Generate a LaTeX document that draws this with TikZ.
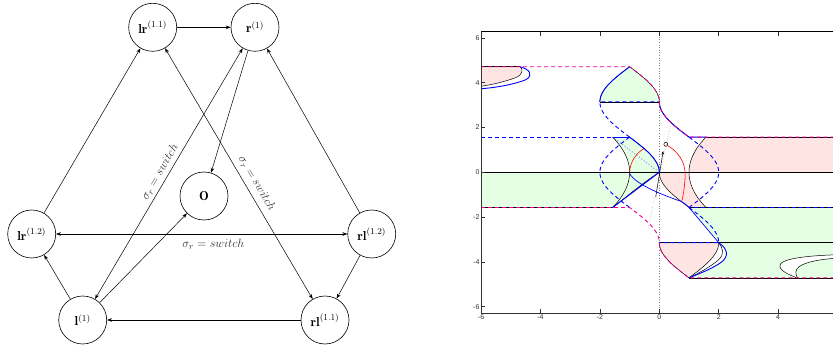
\documentclass[tikz,border=0pt]{standalone}
\usepackage{amsmath}
\usepackage{fontspec}
\newfontfamily\axisfont{Liberation Sans}
\usetikzlibrary{arrows.meta, positioning}
\definecolor{pinkfill}{RGB}{255,228,228}
\definecolor{greenfill}{RGB}{228,255,228}

\begin{document}
\begin{tikzpicture}[x=1pt, y=1pt, state/.style={draw, circle, minimum size=48pt, inner sep=0pt, line width=0.6pt, font=\fontsize{13}{15}\selectfont}, arrow/.style={-{Stealth[length=5pt, width=3.6pt]}, line width=0.5pt}, dblarrow/.style={{Stealth[length=5pt, width=3.6pt]}-{Stealth[length=5pt, width=3.6pt]}, line width=0.5pt}, swlabel/.style={font=\fontsize{12.5}{15}\selectfont, text=black!80}, blk/.style={black, line width=0.5pt}, bl/.style={blue, line width=0.9pt}, bldash/.style={bl, dash pattern=on 4pt off 3pt}, magdash/.style={magenta, line width=0.9pt, dash pattern=on 4pt off 3pt}, ticklabel/.style={font=\axisfont\fontsize{7}{8}\selectfont, inner sep=1.5pt, text=black!80}]

\useasboundingbox (0,0) rectangle (833,346);

% state graph
\node[state] (lr12) at (31.7,112) {$\mathbf{lr}^{(1.2)}$};
\node[state, right=291.4pt of lr12] (rl12) {$\mathbf{rl}^{(1.2)}$};
\node[state] (l1) at (82.7,26) {$\mathbf{l}^{(1)}$};
\node[state, right=193.7pt of l1] (rl11) {$\mathbf{rl}^{(1.1)}$};
\node[state] (lr11) at (152.7,318.7) {$\mathbf{lr}^{(1.1)}$};
\node[state, right=53.7pt of lr11] (r1) {$\mathbf{r}^{(1)}$};
\node[state] (o) at (204,150) {$\mathbf{O}$};

\draw[arrow] (lr11) -- (r1);
\draw[arrow] (lr12) -- (lr11);
\draw[arrow] (rl12) -- (r1);
\draw[arrow] (l1) -- (lr12);
\draw[arrow] (rl12) -- (rl11);
\draw[arrow] (rl11) -- (l1);
\draw[arrow] (r1) -- (o);
\draw[arrow] (l1) -- (o);
\draw[dblarrow] (lr12) -- node[swlabel, below=2pt, pos=0.54] {$\sigma_r = switch$} (rl12);
\draw[dblarrow] (l1) -- node[swlabel, above, sloped, pos=0.49] {$\sigma_r = switch$} (r1);
\draw[dblarrow] (lr11) -- node[swlabel, above=2pt, sloped, pos=0.56] {$\sigma_r = switch$} (rl11);

% phase plane
\begin{scope}[shift={(659.3,173.7)}, x=29.7pt, y=22.4pt]
\begin{scope}
\clip (-6,-6.2832) rectangle (5.848,6.2832);
% regions
\fill[pinkfill] (-6,4.7124) -- (-4.69,4.7124) .. controls (-4.58,4.62) and (-4.58,4.35) .. (-4.85,4.22) .. controls (-5.2,4.05) and (-5.6,3.92) .. (-6,3.84) -- cycle;
\fill[greenfill] (-2,3.1416) -- plot[domain=3.1416:4.7124, samples=30] ({-1+cos(\x r)},\x) -- plot[domain=4.7124:3.1416, samples=30] ({-1-cos(\x r)},\x) -- cycle;
\fill[greenfill] (-6,-1.5708) -- (-1.5708,-1.5708) .. controls (-1.1,-1.1) and (-0.6,-0.5) .. (0,0) -- plot[domain=0:1.5708, samples=30] ({cos(\x r)-1},\x) -- (-1.5708,1.5708) -- plot[domain=1.5708:0, samples=30] ({-1-0.2313*(\x)^2},\x) -- (-6,0) -- cycle;
\fill[pinkfill] (6,1.5708) -- (1.5708,1.5708) -- plot[domain=1.5708:-1.5708, samples=40] ({1+0.2313*(\x)^2},\x) -- (1,-1.5708) -- plot[domain=-1.5708:0, samples=30] ({1-cos(\x r)},\x) -- (6,0) -- cycle;
\fill[greenfill] (1,-1.5708) -- (6,-1.5708) -- (6,-3.1416) -- (2,-3.1416) -- cycle;
\fill[greenfill] (2,-3.1416) -- (6,-3.1416) -- (6,-4.7124) -- (1,-4.7124) .. controls (1.3,-4.55) and (1.8,-4.3) .. (2.1,-4.0) .. controls (2.35,-3.75) and (2.3,-3.4) .. (2,-3.1416) -- cycle;
\fill[white] (6,-3.68) .. controls (5.0,-3.72) and (4.0,-3.85) .. (4.06,-4.21) .. controls (4.1,-4.45) and (4.45,-4.6) .. (4.62,-4.7124) -- (4.66,-4.7124) .. controls (4.63,-4.68) and (4.6,-4.6) .. (4.6,-4.45) .. controls (4.6,-4.1) and (5.2,-3.9) .. (6,-3.83) -- cycle;
\fill[pinkfill] (0,-3.1416) -- (2,-3.1416) -- plot[domain=-3.1416:-4.7124, samples=30] ({1-cos(\x r)},\x) -- plot[domain=-4.7124:-3.1416, samples=30] ({1+cos(\x r)},\x) -- cycle;
% guides
\draw[gray, dotted, line width=0.6pt] (0,-6.2832) -- (0,6.2832);
\draw[gray!70, dotted, line width=0.6pt] (-0.38,-2.5) -- (0.38,2.1);
\draw[blue!45, dotted, line width=1pt] (-1.5708,1.5708) -- (0,0);
% black curves
\draw[blk] (-6,0) -- (6,0);
\draw[blk] (-6,-1.5708) -- (-1.5708,-1.5708);
\draw[blk] (-1.5708,1.5708) -- (-1,1.5708);
\draw[blk] (1.5708,1.5708) -- (6,1.5708);
\draw[blk] (1,-1.5708) -- (6,-1.5708);
\draw[blk] (-2,3.1416) -- (0,3.1416);
\draw[blk] (0,-3.1416) -- (6,-3.1416);
\draw[blk] (-6,4.7124) -- (-4.69,4.7124);
\draw[blk] (1,-4.7124) -- (6,-4.7124);
\draw[blk] plot[domain=1.5708:-1.5708, samples=40] ({-1-0.2313*(\x)^2},\x);
\draw[blk] plot[domain=1.5708:-1.5708, samples=40] ({1+0.2313*(\x)^2},\x);
\draw[blk] plot[domain=0:1.5708, samples=30] ({cos(\x r)-1},\x);
\draw[blk] plot[domain=-1.5708:0, samples=30] ({1-cos(\x r)},\x);
\draw[blk] (0,0) .. controls (-0.6,-0.5) and (-1.1,-1.1) .. (-1.5708,-1.5708);
\draw[blk] plot[domain=3.1416:4.7124, samples=30] ({-1+cos(\x r)},\x);
\draw[blk] plot[domain=3.1416:4.7124, samples=30] ({-1-cos(\x r)},\x);
\draw[blk] plot[domain=1.5708:3.1416, samples=30] ({1+cos(\x r)},\x);
\draw[blk] plot[domain=-3.1416:-4.7124, samples=30] ({1-cos(\x r)},\x);
\draw[blk] plot[domain=-3.1416:-4.7124, samples=30] ({1+cos(\x r)},\x);
\draw[blk] (-4.69,4.7124) .. controls (-4.58,4.62) and (-4.58,4.35) .. (-4.85,4.22) .. controls (-5.2,4.05) and (-5.6,3.92) .. (-6,3.84);
\draw[blk] (2,-3.1416) .. controls (2.15,-3.4) and (2.2,-3.65) .. (2.0,-3.9) .. controls (1.7,-4.25) and (1.25,-4.55) .. (1,-4.7124);
\draw[blk] (6,-3.68) .. controls (5.0,-3.72) and (4.0,-3.85) .. (4.06,-4.21) .. controls (4.1,-4.45) and (4.45,-4.6) .. (4.62,-4.7124);
\draw[blk] (6,-3.83) .. controls (5.2,-3.9) and (4.6,-4.1) .. (4.6,-4.45) .. controls (4.6,-4.6) and (4.63,-4.68) .. (4.66,-4.7124);
% trajectory and start point
\draw[blk, -{Stealth[length=3.5pt, width=2.5pt]}] (-0.12,-1.1) -- (0.13,0.95);
\draw[blk] (0.22,1.25) circle[radius=2pt];
\draw[red, line width=0.6pt] (-1,0) .. controls (-0.98,0.45) and (-0.8,0.85) .. (-0.5,1.07);
\draw[red, line width=0.6pt] (0.25,1.22) .. controls (0.6,0.95) and (0.9,0.5) .. (0.87,-0.2) .. controls (0.85,-0.7) and (0.8,-1.1) .. (0.75,-1.31);
% blue curves
\draw[bl] plot[domain=0:1.5708, samples=30] ({cos(\x r)-1},\x);
\draw[bl] (-1.5708,1.5708) -- (-1,1.5708);
\draw[bl] (0,0) -- (-1.5708,-1.5708);
\draw[bl, line width=0.7pt] (-1,-0.05) .. controls (-0.8,-0.55) and (0.1,-1.0) .. (0.75,-1.31) .. controls (0.85,-1.37) and (0.95,-1.5) .. (1,-1.5708) -- (2,-3.1416);
\draw[bl] plot[domain=3.1416:1.5708, samples=30] ({1+cos(\x r)},\x) -- (1.5708,1.5708);
\draw[bl] plot[domain=3.1416:4.7124, samples=30] ({-1+cos(\x r)},\x);
\draw[bl] (-4.69,4.7124) .. controls (-4.4,4.62) and (-4.2,4.35) .. (-4.5,4.13) .. controls (-4.9,3.92) and (-5.5,3.78) .. (-6,3.73);
\draw[bl] (2,-3.1416) .. controls (2.3,-3.4) and (2.35,-3.75) .. (2.1,-4.0) .. controls (1.8,-4.3) and (1.3,-4.55) .. (1,-4.7124);
\draw[bldash] (-6,1.5708) -- (-1.5708,1.5708);
\draw[bldash] plot[domain=1.5708:-1.5708, samples=40] ({-1-cos(\x r)},\x);
\draw[bldash] plot[domain=1.5708:3.1416, samples=30] ({-1+cos(\x r)},\x) -- (0,3.1416);
\draw[bldash] (6,-1.5708) -- (1,-1.5708);
\draw[bldash] plot[domain=-1.5708:1.5708, samples=40] ({1+cos(\x r)},\x);
\draw[bldash] plot[domain=-1.5708:-3.1416, samples=30] ({1-cos(\x r)},\x) -- (0,-3.1416);
% magenta separatrices
\draw[magdash] (-6,4.7124) -- (-1,4.7124) -- plot[domain=4.7124:3.1416, samples=30] ({-1-cos(\x r)},\x) -- plot[domain=3.1416:1.5708, samples=30] ({1+cos(\x r)},\x) -- (6,1.5708);
\draw[magdash] (-6,-1.5708) -- (-1,-1.5708) -- plot[domain=-1.5708:-3.1416, samples=30] ({-1-cos(\x r)},\x) -- plot[domain=-3.1416:-4.7124, samples=30] ({1+cos(\x r)},\x) -- (6,-4.7124);
\end{scope}
% axes
\draw[black!80, line width=0.6pt] (-6,-6.2832) -- (-6,6.2832);
\draw[black!80, line width=0.8pt] (-6,-6.2832) -- (5.848,-6.2832);
\draw[black, line width=1.2pt] (-6,6.2832) -- (5.848,6.2832);
\foreach \yy in {-6,-4,...,6} {
  \draw[black!80, line width=0.5pt] (-6,\yy) -- (-5.87,\yy);
  \node[ticklabel, left] (ylab\yy) at (-6,\yy) {\yy};
}
\foreach \xx in {-6,-4,...,4} {
  \draw[black!80, line width=0.5pt] (\xx,-6.2832) -- (\xx,-6.1);
  \draw[black!80, line width=0.5pt] (\xx,6.2832) -- (\xx,6.1);
  \node[ticklabel, below] (xlab\xx) at (\xx,-6.2832) {\xx};
}
\end{scope}

\end{tikzpicture}
\end{document}
